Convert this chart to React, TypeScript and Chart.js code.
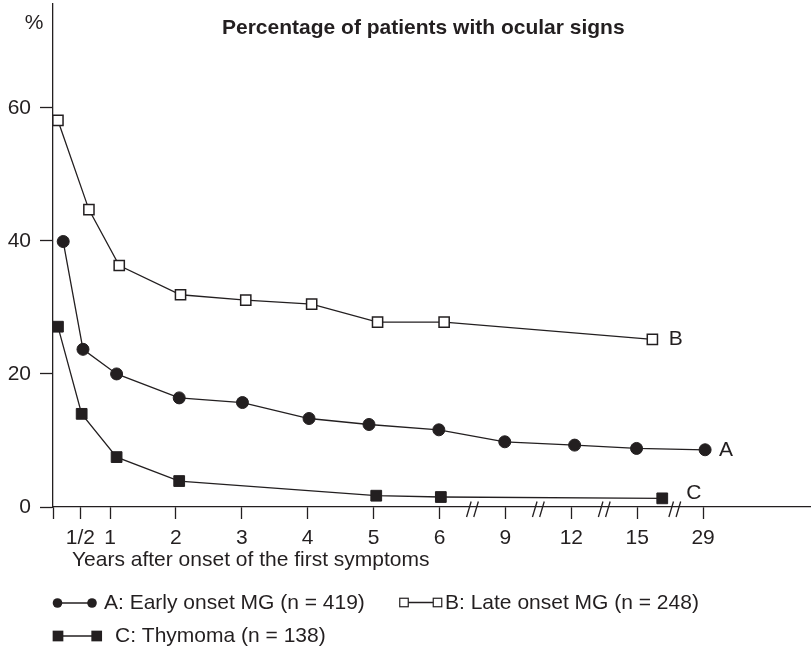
import React, { useEffect, useRef } from 'react';
import { Chart, registerables } from 'chart.js';

Chart.register(...registerables);

const FONT = '"Liberation Sans", Arial, Helvetica, sans-serif';
const INK = '#231f20';

const chartTitle = 'Percentage of patients with ocular signs';
const xAxisTitle = 'Years after onset of the first symptoms';
const yAxisUnit = '%';

// The time axis is broken after 6 years, so years sit on an ordinal track:
// each label has its own position along the axis.
const tickLabels = ['1/2', '1', '2', '3', '4', '5', '6', '9', '12', '15', '29'];
const tickPositions = [0.55, 1, 2, 3, 4, 5, 6, 7, 8, 9, 10];
const axisBreaks = [6.5, 7.5, 8.5, 9.57];
const yTicks = [0, 20, 40, 60];

// A: early onset MG
const earlyPos = [0.29, 0.59, 1.1, 2.05, 3.01, 4.02, 4.93, 5.99, 6.99, 8.05, 8.99, 10.03];
const earlyPct = [39.9, 23.7, 20.0, 16.4, 15.7, 13.3, 12.4, 11.6, 9.8, 9.3, 8.8, 8.6];

// B: late onset MG
const latePos = [0.21, 0.68, 1.14, 2.07, 3.06, 4.06, 5.06, 6.07, 9.23];
const latePct = [58.1, 44.7, 36.3, 31.9, 31.1, 30.5, 27.8, 27.8, 25.2];

// C: thymoma
const thymPos = [0.21, 0.57, 1.1, 2.05, 5.04, 6.02, 9.38];
const thymPct = [27.1, 14.0, 7.5, 3.9, 1.7, 1.5, 1.3];

const seriesTags = ['A', 'B', 'C'];
const legendLabels = [
  'A: Early onset MG (n = 419)',
  'B: Late onset MG (n = 248)',
  'C: Thymoma (n = 138)',
];

const toPoints = (xs: number[], ys: number[]) => xs.map((x, i) => ({ x, y: ys[i] }));

// keep the plot area flush with the axes: no extra room for edge labels
const noEdgePadding = (scale: any) => {
  scale.paddingTop = 0;
  scale.paddingBottom = 0;
  scale.paddingLeft = 0;
  scale.paddingRight = 0;
};

const decorations = {
  id: 'decorations',
  afterDraw(chart: any) {
    const ctx: CanvasRenderingContext2D = chart.ctx;
    const xs = chart.scales.x;
    const ys = chart.scales.y;
    ctx.save();
    ctx.fillStyle = INK;
    ctx.strokeStyle = INK;
    ctx.textBaseline = 'middle';

    // heading
    ctx.font = `bold 21px ${FONT}`;
    ctx.textAlign = 'left';
    ctx.fillText(chartTitle, 222, 28);

    // unit above the value axis
    ctx.font = `21px ${FONT}`;
    ctx.textAlign = 'center';
    ctx.fillText(yAxisUnit, 34, 23);

    // axis title
    ctx.textAlign = 'left';
    ctx.fillText(xAxisTitle, 72, 560);

    // axis break marks "//"
    const base = ys.bottom;
    ctx.lineWidth = 1.3;
    axisBreaks.forEach((b) => {
      const cx = xs.getPixelForValue(b);
      [-3.6, 3.6].forEach((off) => {
        ctx.beginPath();
        ctx.moveTo(cx + off - 2.3, base + 10);
        ctx.lineTo(cx + off + 2.3, base - 5.5);
        ctx.stroke();
      });
    });

    // series tags next to the last point of each curve
    const tagOffsets = [
      [14, 0],
      [16.5, 0],
      [24, -5],
    ];
    ctx.font = `21px ${FONT}`;
    ctx.textAlign = 'left';
    seriesTags.forEach((tag, i) => {
      const pts = chart.getDatasetMeta(i).data;
      const last = pts[pts.length - 1];
      ctx.fillText(tag, last.x + tagOffsets[i][0], last.y + tagOffsets[i][1]);
    });

    // legend
    const drawCircle = (cx: number, cy: number, r: number) => {
      ctx.beginPath();
      ctx.arc(cx, cy, r, 0, Math.PI * 2);
      ctx.fill();
    };
    const drawSquare = (cx: number, cy: number, s: number, filled: boolean) => {
      if (filled) {
        ctx.fillRect(cx - s / 2, cy - s / 2, s, s);
      } else {
        ctx.fillStyle = '#ffffff';
        ctx.fillRect(cx - s / 2, cy - s / 2, s, s);
        ctx.fillStyle = INK;
        ctx.lineWidth = 1.2;
        ctx.strokeRect(cx - s / 2, cy - s / 2, s, s);
      }
    };
    const drawLink = (x1: number, x2: number, yy: number) => {
      ctx.lineWidth = 1.3;
      ctx.beginPath();
      ctx.moveTo(x1, yy);
      ctx.lineTo(x2, yy);
      ctx.stroke();
    };

    drawLink(57.5, 92, 603);
    drawCircle(57.5, 603, 4.8);
    drawCircle(92, 603, 4.8);
    ctx.fillText(legendLabels[0], 104, 603.5);

    drawLink(404, 437.5, 602.5);
    drawSquare(404, 602.5, 8.5, false);
    drawSquare(437.5, 602.5, 8.5, false);
    ctx.fillText(legendLabels[1], 445, 603.5);

    drawLink(58, 96.7, 636);
    drawSquare(58, 636, 10.7, true);
    drawSquare(96.7, 636, 10.7, true);
    ctx.fillText(legendLabels[2], 115, 636.5);

    ctx.restore();
  },
};

export default function App() {
  const canvasRef = useRef<HTMLCanvasElement | null>(null);

  useEffect(() => {
    const canvas = canvasRef.current;
    if (!canvas) return;

    const lineStyle = {
      borderColor: INK,
      borderWidth: 1.3,
      tension: 0,
      fill: false,
    };

    const chart = new Chart(canvas, {
      type: 'line',
      data: {
        datasets: [
          {
            ...lineStyle,
            label: legendLabels[0],
            data: toPoints(earlyPos, earlyPct),
            pointStyle: 'circle',
            pointRadius: 6,
            pointBackgroundColor: INK,
            pointBorderColor: INK,
            pointBorderWidth: 1,
          },
          {
            ...lineStyle,
            label: legendLabels[1],
            data: toPoints(latePos, latePct),
            pointStyle: 'rect',
            pointRadius: 7.2,
            pointBackgroundColor: '#ffffff',
            pointBorderColor: INK,
            pointBorderWidth: 1.5,
          },
          {
            ...lineStyle,
            label: legendLabels[2],
            data: toPoints(thymPos, thymPct),
            pointStyle: 'rect',
            pointRadius: 7.6,
            pointBackgroundColor: INK,
            pointBorderColor: INK,
            pointBorderWidth: 1,
          },
        ],
      },
      options: {
        responsive: false,
        animation: false,
        devicePixelRatio: 1,
        layout: { autoPadding: false, padding: { top: 4, right: 0, left: 0, bottom: 0 } },
        plugins: {
          legend: { display: false },
          title: { display: false },
          tooltip: { enabled: false },
        },
        scales: {
          x: {
            type: 'linear',
            min: 0.135,
            max: 11.637,
            afterFit: (scale: any) => {
              scale.height = 144;
              noEdgePadding(scale);
            },
            afterBuildTicks: (scale: any) => {
              scale.ticks = [scale.min, ...tickPositions].map((v) => ({ value: v }));
            },
            ticks: {
              autoSkip: false,
              maxRotation: 0,
              padding: 7,
              color: INK,
              font: { family: FONT, size: 21 },
              callback: (_v: any, i: number) => (i === 0 ? '' : tickLabels[i - 1]),
            },
            grid: {
              display: true,
              drawOnChartArea: false,
              drawTicks: true,
              tickLength: 12,
              tickColor: INK,
              tickWidth: 1.3,
            },
            border: { display: true, color: INK, width: 1.3 },
          },
          y: {
            type: 'linear',
            min: 0,
            max: 75.6,
            afterFit: (scale: any) => {
              scale.width = 53;
              noEdgePadding(scale);
            },
            afterBuildTicks: (scale: any) => {
              scale.ticks = yTicks.map((v) => ({ value: v }));
            },
            ticks: {
              padding: 9,
              color: INK,
              font: { family: FONT, size: 21 },
            },
            grid: {
              display: true,
              drawOnChartArea: false,
              drawTicks: true,
              tickLength: 13,
              tickColor: INK,
              tickWidth: 1.3,
            },
            border: { display: true, color: INK, width: 1.3 },
          },
        },
      },
      plugins: [decorations],
    } as any);

    return () => chart.destroy();
  }, []);

  return (
    <div style={{ position: 'absolute', left: 0, top: 0, width: 811, height: 651, background: '#ffffff' }}>
      <canvas ref={canvasRef} width={811} height={651} style={{ display: 'block' }} />
    </div>
  );
}
